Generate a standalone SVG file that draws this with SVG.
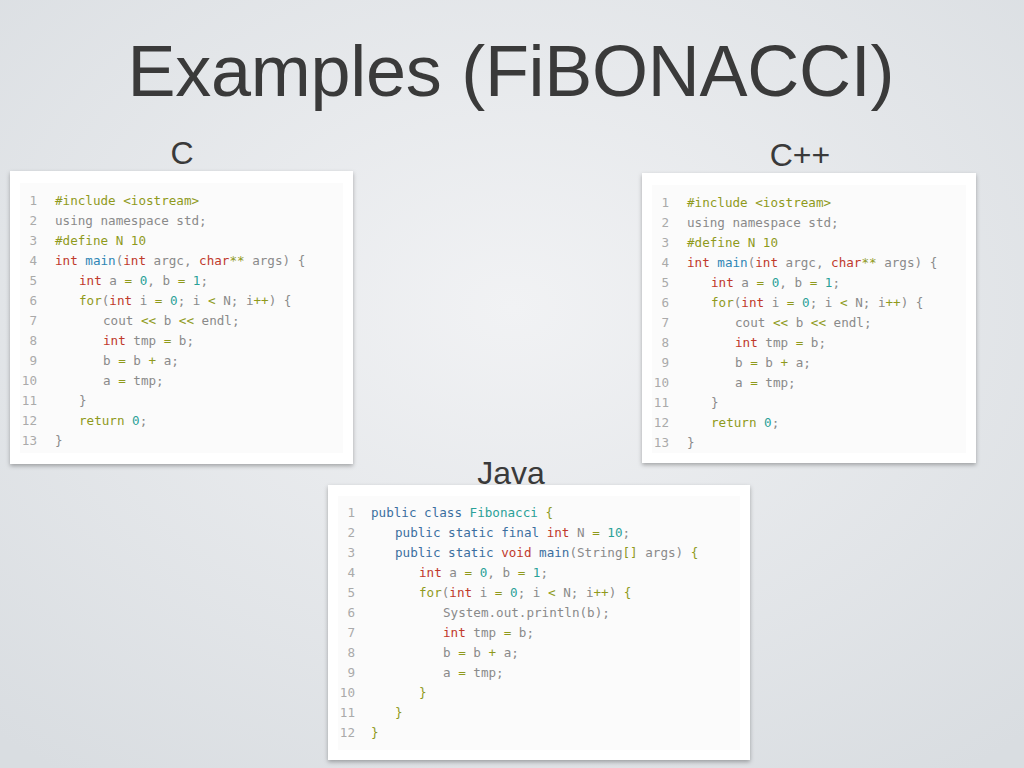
<svg xmlns="http://www.w3.org/2000/svg" width="1024" height="768" viewBox="0 0 1024 768">
<defs>
<radialGradient id="bg" cx="50%" cy="40%" r="75%"><stop offset="0" stop-color="#f1f2f4"/><stop offset="1" stop-color="#d9dde1"/></radialGradient>
<filter id="sh" x="-5%" y="-5%" width="110%" height="115%"><feDropShadow dx="0" dy="2" stdDeviation="2" flood-opacity="0.3"/></filter>
</defs>
<style>
.card{fill:#fff;filter:url(#sh)}
.inner{fill:#fbfbfb}
.code{font-family:"DejaVu Sans Mono",monospace;font-size:12.6px;fill:#8a8a8a}
.ln{fill:#aaa;text-anchor:end}
.k{fill:#c0392b}.o{fill:#8f9a1c}.b{fill:#2e86b5}.n{fill:#2aa198}.p{fill:#3b6fa0}
.lab{font-family:"Liberation Sans",Arial,sans-serif;fill:#3a3a3a}
</style>
<rect width="1024" height="768" fill="url(#bg)"/>
<text class="lab" x="511" y="96" font-size="72" text-anchor="middle" textLength="767">Examples (FiBONACCI)</text>
<text class="lab" x="182" y="164" font-size="32" text-anchor="middle">C</text>
<text class="lab" x="800" y="166" font-size="32" text-anchor="middle">C++</text>
<text class="lab" x="511" y="484" font-size="32" text-anchor="middle">Java</text>

<g id="c">
<rect class="card" x="10" y="171" width="343" height="293"/>
<rect class="inner" x="20" y="183" width="323" height="270"/>
<g class="code">
<text y="205"><tspan class="ln" x="37">1</tspan><tspan x="55" class="o">#include &lt;iostream&gt;</tspan></text>
<text y="225"><tspan class="ln" x="37">2</tspan><tspan x="55">using namespace std;</tspan></text>
<text y="245"><tspan class="ln" x="37">3</tspan><tspan x="55" class="o">#define N 10</tspan></text>
<text y="265"><tspan class="ln" x="37">4</tspan><tspan x="55"><tspan class="k">int</tspan> <tspan class="b">main</tspan>(<tspan class="k">int</tspan> argc, <tspan class="k">char</tspan><tspan class="o">**</tspan> args) {</tspan></text>
<text y="285"><tspan class="ln" x="37">5</tspan><tspan x="79"><tspan class="k">int</tspan> a <tspan class="o">=</tspan> <tspan class="n">0</tspan>, b <tspan class="o">=</tspan> <tspan class="n">1</tspan>;</tspan></text>
<text y="305"><tspan class="ln" x="37">6</tspan><tspan x="79"><tspan class="o">for</tspan>(<tspan class="k">int</tspan> i <tspan class="o">=</tspan> <tspan class="n">0</tspan>; i <tspan class="o">&lt;</tspan> N; i<tspan class="o">++</tspan>) {</tspan></text>
<text y="325"><tspan class="ln" x="37">7</tspan><tspan x="103">cout <tspan class="o">&lt;&lt;</tspan> b <tspan class="o">&lt;&lt;</tspan> endl;</tspan></text>
<text y="345"><tspan class="ln" x="37">8</tspan><tspan x="103"><tspan class="k">int</tspan> tmp <tspan class="o">=</tspan> b;</tspan></text>
<text y="365"><tspan class="ln" x="37">9</tspan><tspan x="103">b <tspan class="o">=</tspan> b <tspan class="o">+</tspan> a;</tspan></text>
<text y="385"><tspan class="ln" x="37">10</tspan><tspan x="103">a <tspan class="o">=</tspan> tmp;</tspan></text>
<text y="405"><tspan class="ln" x="37">11</tspan><tspan x="79">}</tspan></text>
<text y="425"><tspan class="ln" x="37">12</tspan><tspan x="79"><tspan class="o">return</tspan> <tspan class="n">0</tspan>;</tspan></text>
<text y="445"><tspan class="ln" x="37">13</tspan><tspan x="55">}</tspan></text>
</g>
</g>

<g id="cpp">
<rect class="card" x="642" y="173" width="334" height="290"/>
<rect class="inner" x="652" y="185" width="314" height="268"/>
<g class="code">
<text y="207"><tspan class="ln" x="669">1</tspan><tspan x="687" class="o">#include &lt;iostream&gt;</tspan></text>
<text y="227"><tspan class="ln" x="669">2</tspan><tspan x="687">using namespace std;</tspan></text>
<text y="247"><tspan class="ln" x="669">3</tspan><tspan x="687" class="o">#define N 10</tspan></text>
<text y="267"><tspan class="ln" x="669">4</tspan><tspan x="687"><tspan class="k">int</tspan> <tspan class="b">main</tspan>(<tspan class="k">int</tspan> argc, <tspan class="k">char</tspan><tspan class="o">**</tspan> args) {</tspan></text>
<text y="287"><tspan class="ln" x="669">5</tspan><tspan x="711"><tspan class="k">int</tspan> a <tspan class="o">=</tspan> <tspan class="n">0</tspan>, b <tspan class="o">=</tspan> <tspan class="n">1</tspan>;</tspan></text>
<text y="307"><tspan class="ln" x="669">6</tspan><tspan x="711"><tspan class="o">for</tspan>(<tspan class="k">int</tspan> i <tspan class="o">=</tspan> <tspan class="n">0</tspan>; i <tspan class="o">&lt;</tspan> N; i<tspan class="o">++</tspan>) {</tspan></text>
<text y="327"><tspan class="ln" x="669">7</tspan><tspan x="735">cout <tspan class="o">&lt;&lt;</tspan> b <tspan class="o">&lt;&lt;</tspan> endl;</tspan></text>
<text y="347"><tspan class="ln" x="669">8</tspan><tspan x="735"><tspan class="k">int</tspan> tmp <tspan class="o">=</tspan> b;</tspan></text>
<text y="367"><tspan class="ln" x="669">9</tspan><tspan x="735">b <tspan class="o">=</tspan> b <tspan class="o">+</tspan> a;</tspan></text>
<text y="387"><tspan class="ln" x="669">10</tspan><tspan x="735">a <tspan class="o">=</tspan> tmp;</tspan></text>
<text y="407"><tspan class="ln" x="669">11</tspan><tspan x="711">}</tspan></text>
<text y="427"><tspan class="ln" x="669">12</tspan><tspan x="711"><tspan class="o">return</tspan> <tspan class="n">0</tspan>;</tspan></text>
<text y="447"><tspan class="ln" x="669">13</tspan><tspan x="687">}</tspan></text>
</g>
</g>

<g id="java">
<rect class="card" x="328" y="485" width="422" height="275"/>
<rect class="inner" x="338" y="496" width="402" height="254"/>
<g class="code">
<text y="517"><tspan class="ln" x="355">1</tspan><tspan x="371"><tspan class="p">public class</tspan> <tspan class="n">Fibonacci</tspan> <tspan class="o">{</tspan></tspan></text>
<text y="537"><tspan class="ln" x="355">2</tspan><tspan x="395"><tspan class="p">public static final</tspan> <tspan class="k">int</tspan> N <tspan class="o">=</tspan> <tspan class="n">10</tspan>;</tspan></text>
<text y="557"><tspan class="ln" x="355">3</tspan><tspan x="395"><tspan class="p">public static</tspan> <tspan class="k">void</tspan> <tspan class="p">main</tspan>(String<tspan class="o">[]</tspan> args) <tspan class="o">{</tspan></tspan></text>
<text y="577"><tspan class="ln" x="355">4</tspan><tspan x="419"><tspan class="k">int</tspan> a <tspan class="o">=</tspan> <tspan class="n">0</tspan>, b <tspan class="o">=</tspan> <tspan class="n">1</tspan>;</tspan></text>
<text y="597"><tspan class="ln" x="355">5</tspan><tspan x="419"><tspan class="o">for</tspan>(<tspan class="k">int</tspan> i <tspan class="o">=</tspan> <tspan class="n">0</tspan>; i <tspan class="o">&lt;</tspan> N; i<tspan class="o">++</tspan>) <tspan class="o">{</tspan></tspan></text>
<text y="617"><tspan class="ln" x="355">6</tspan><tspan x="443">System.out.println(b);</tspan></text>
<text y="637"><tspan class="ln" x="355">7</tspan><tspan x="443"><tspan class="k">int</tspan> tmp <tspan class="o">=</tspan> b;</tspan></text>
<text y="657"><tspan class="ln" x="355">8</tspan><tspan x="443">b <tspan class="o">=</tspan> b <tspan class="o">+</tspan> a;</tspan></text>
<text y="677"><tspan class="ln" x="355">9</tspan><tspan x="443">a <tspan class="o">=</tspan> tmp;</tspan></text>
<text y="697"><tspan class="ln" x="355">10</tspan><tspan x="419"><tspan class="o">}</tspan></tspan></text>
<text y="717"><tspan class="ln" x="355">11</tspan><tspan x="395"><tspan class="o">}</tspan></tspan></text>
<text y="737"><tspan class="ln" x="355">12</tspan><tspan x="371"><tspan class="o">}</tspan></tspan></text>
</g>
</g>
</svg>
